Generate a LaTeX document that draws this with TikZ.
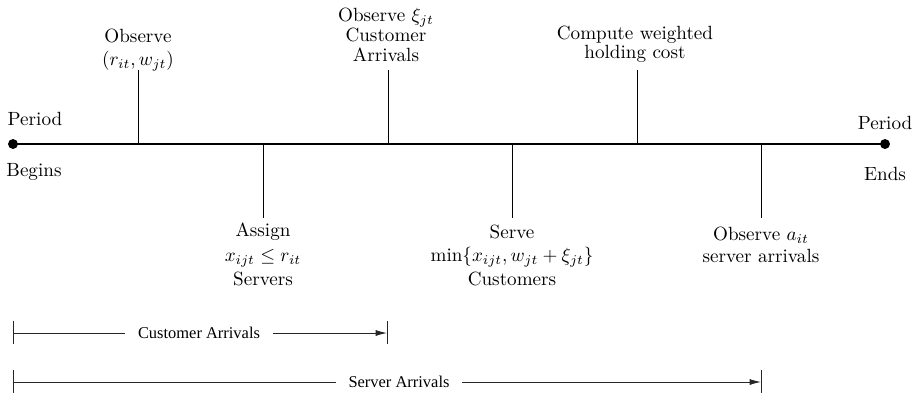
\documentclass[tikz,border=0pt]{standalone}
\usepackage{fontspec}
\newfontfamily\timesfont{Liberation Serif}
\usetikzlibrary{arrows.meta}
\begin{document}
\begin{tikzpicture}[x=0.5229pt,y=-0.5229pt,
  axis/.style={line width=0.55pt},
  tick/.style={line width=0.5pt},
  dot/.style={circle,fill=black,inner sep=0pt,minimum size=5.2pt},
  lbl/.style={align=center,inner sep=0pt,font=\fontsize{10}{11.8}\selectfont},
  brk/.style={line width=0.5pt,draw=black!85},
  brklbl/.style={inner xsep=6.5pt,inner ysep=0pt,font=\timesfont\fontsize{8.6}{10}\selectfont},
  tip/.style={-{Latex[length=6pt,width=3.2pt]}}]
\useasboundingbox (0,0) rectangle (918,396);
% axis
\node[dot] (beg) at (13,144) {};
\node[dot] (end) at (885,144) {};
\draw[axis] (beg.center) -- (end.center);
% ticks
\coordinate (a1) at (138,144); \coordinate (b1) at (138,70);
\coordinate (a2) at (263,144); \coordinate (b2) at (263,218);
\coordinate (a3) at (388,144); \coordinate (b3) at (388,70);
\coordinate (a4) at (512,144); \coordinate (b4) at (512,218);
\coordinate (a5) at (637,144); \coordinate (b5) at (637,70);
\coordinate (a6) at (761,144); \coordinate (b6) at (761,218);
\foreach \i in {1,...,6} \draw[tick] (a\i) -- (b\i);
% labels
\node[lbl] (pb) at (35,119) {Period};
\node[lbl] (bg) at (34,172) {Begins};
\node[lbl] (pe) at (885,123) {Period};
\node[lbl] (en) at (885,174) {Ends};
\node[lbl] (l1) at (138,50) {Observe\\$(r_{it},w_{jt})$};
\node[lbl] (l3) at (386,35) {Observe $\xi_{jt}$\\[-1.4pt]Customer\\[-1.4pt]Arrivals};
\node[lbl] (l5) at (635,44) {Compute weighted\\[-2pt]holding cost};
\node[lbl] (l2) at (263,254) {Assign\\[1.5pt]$x_{ijt}\le r_{it}$\\[0.5pt]Servers};
\node[lbl] (l4) at (512,255) {Serve\\[0.5pt]$\min\{x_{ijt},w_{jt}+\xi_{jt}\}$\\[0.5pt]Customers};
\node[lbl] (l6) at (761,245) {Observe $a_{it}$\\server arrivals};
% customer arrivals bracket
\coordinate (c0) at (13,333); \coordinate (c0t) at (13,321); \coordinate (c0b) at (13,344);
\coordinate (c1) at (387,333); \coordinate (c1t) at (387,321); \coordinate (c1b) at (387,344);
\node[brklbl] (ca) at (199,333) {Customer Arrivals};
\draw[brk] (c0t) -- (c0b);
\draw[brk] (c1t) -- (c1b);
\draw[brk] (c0) -- (ca.west);
\draw[brk,tip] (ca.east) -- (c1);
% server arrivals bracket
\coordinate (s0) at (13,382); \coordinate (s0t) at (13,370); \coordinate (s0b) at (13,393);
\coordinate (s1) at (761,382); \coordinate (s1t) at (761,370); \coordinate (s1b) at (761,393);
\node[brklbl] (sa) at (399,382) {Server Arrivals};
\draw[brk] (s0t) -- (s0b);
\draw[brk] (s1t) -- (s1b);
\draw[brk] (s0) -- (sa.west);
\draw[brk,tip] (sa.east) -- (s1);
\end{tikzpicture}
\end{document}
